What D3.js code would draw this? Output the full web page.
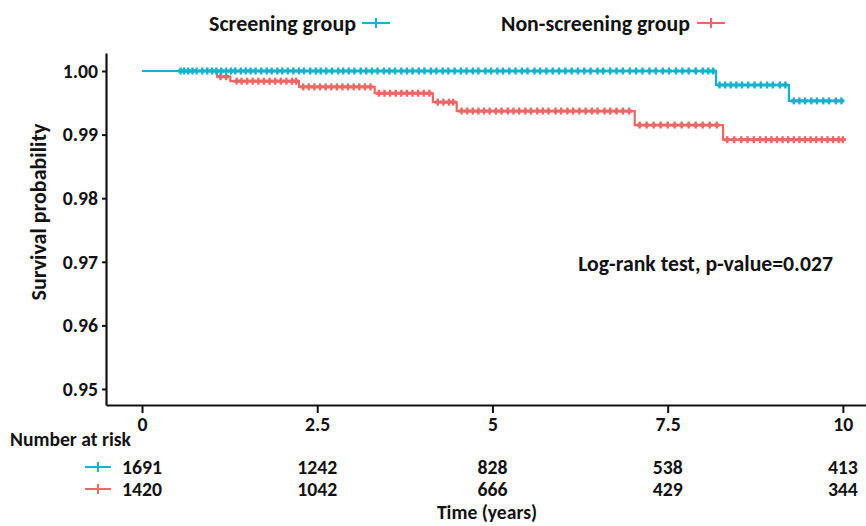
<!DOCTYPE html>
<html>
<head>
<meta charset="utf-8">
<script src="https://cdn.jsdelivr.net/npm/d3@7"></script>
<style>
  html, body { margin: 0; padding: 0; background: #fff; }
  svg { display: block; }
</style>
</head>
<body>
<svg id="chart" width="866" height="526"></svg>
<script>
// ---------------- DATA ----------------
const groups = ["Screening group", "Non-screening group"];
// Kaplan-Meier step points: time (years), survival probability
const screeningTimes = [0, 8.19, 9.23, 10.0];
const screeningSurv  = [1.0, 0.9978, 0.9953, 0.9953];
const nonScreeningTimes = [0, 1.07, 1.26, 2.24, 3.32, 4.15, 4.49, 7.03, 8.29, 10.0];
const nonScreeningSurv  = [1.0, 0.9991, 0.9984, 0.9975, 0.9965, 0.9951, 0.9937, 0.9915, 0.9892, 0.9892];
// censoring times
const screeningCensor = [0.55,0.6,0.66,0.72,0.78,0.86,0.93,1.0,1.06,1.13,1.2,1.27,1.33,1.41,1.48,1.55,1.62,1.7,1.78,1.85,1.93,2.0,2.08,2.16,2.24,2.31,2.4,2.48,2.55,2.63,2.71,2.8,2.87,2.95,3.03,3.12,3.2,3.28,3.36,3.45,3.53,3.61,3.7,3.78,3.86,3.95,4.03,4.12,4.2,4.29,4.37,4.46,4.55,4.63,4.72,4.8,4.9,4.98,5.07,5.15,5.24,5.33,5.42,5.5,5.6,5.68,5.77,5.86,5.95,6.04,6.13,6.22,6.31,6.4,6.5,6.58,6.68,6.77,6.86,6.96,7.05,7.14,7.24,7.33,7.43,7.52,7.62,7.71,7.8,7.9,8.0,8.08,8.15,8.24,8.32,8.4,8.48,8.56,8.65,8.74,8.83,8.92,9.0,9.1,9.18,9.3,9.38,9.46,9.55,9.63,9.72,9.8,9.9,9.98];
const nonScreeningCensor = [1.12,1.2,1.35,1.42,1.5,1.58,1.66,1.74,1.82,1.9,1.98,2.06,2.14,2.2,2.3,2.38,2.46,2.54,2.62,2.7,2.78,2.86,2.94,3.02,3.1,3.18,3.26,3.38,3.46,3.54,3.62,3.7,3.78,3.86,3.94,4.02,4.1,4.22,4.3,4.38,4.44,4.56,4.64,4.72,4.8,4.88,4.96,5.05,5.13,5.22,5.3,5.38,5.47,5.55,5.64,5.72,5.8,5.9,5.98,6.07,6.15,6.24,6.33,6.42,6.5,6.6,6.68,6.77,6.86,6.95,7.1,7.2,7.3,7.4,7.5,7.6,7.7,7.8,7.9,8.0,8.1,8.2,8.35,8.45,8.55,8.64,8.73,8.82,8.9,8.98,9.06,9.14,9.22,9.3,9.38,9.46,9.54,9.62,9.7,9.78,9.86,9.94,10.0];
// ticks
const xTicks = [0, 2.5, 5, 7.5, 10];
const xTickLabels = ["0", "2.5", "5", "7.5", "10"];
const yTicks = [0.95, 0.96, 0.97, 0.98, 0.99, 1.00];
const yTickLabels = ["0.95", "0.96", "0.97", "0.98", "0.99", "1.00"];
// number at risk
const riskScreening = [1691, 1242, 828, 538, 413];
const riskNonScreening = [1420, 1042, 666, 429, 344];
const colors = ["#14B2CC", "#EC6864"];
const pText = "Log-rank test, p-value=0.027";

// ---------------- FONT ----------------
function fontAvailable(fam) {
  const c = document.createElement("canvas").getContext("2d");
  const s = "Screening group 0123456789";
  c.font = "bold 40px monospace"; const a = c.measureText(s).width;
  c.font = "bold 40px '" + fam + "', monospace"; const b = c.measureText(s).width;
  return Math.abs(a - b) > 0.5;
}
let family = "Lato";
["Carlito", "Calibri", "Lato"].some(f => { if (fontAvailable(f)) { family = f; return true; } return false; });
const ctx = document.createElement("canvas").getContext("2d");
function sizeFor(str, targetW) {
  ctx.font = "bold 100px '" + family + "'";
  return 100 * targetW / ctx.measureText(str).width;
}
const FONT = "'" + family + "', sans-serif";
const fsNum = sizeFor("1691", 40);
const fsRisk = sizeFor("Number at risk", 121);

// ---------------- CHART ----------------
const svg = d3.select("#chart");
const x = d3.scaleLinear().domain([-0.514, 10.33]).range([106, 866]);
const y = d3.scaleLinear().domain([0.94748, 1.00283]).range([405, 53]);

function survAt(times, surv, t) {
  let v = surv[0];
  for (let i = 0; i < times.length; i++) if (times[i] <= t) v = surv[i];
  return v;
}

const series = [
  { times: nonScreeningTimes, surv: nonScreeningSurv, censor: nonScreeningCensor, color: colors[1] },
  { times: screeningTimes, surv: screeningSurv, censor: screeningCensor, color: colors[0] }
];

const line = d3.line().x(d => x(d[0])).y(d => y(d[1])).curve(d3.curveStepAfter);
series.forEach(s => {
  const pts = s.times.map((t, i) => [t, s.surv[i]]);
  svg.append("path").attr("d", line(pts)).attr("fill", "none")
    .attr("stroke", s.color).attr("stroke-width", 2.2);
  const g = svg.append("g").attr("stroke", s.color);
  s.censor.forEach(t => {
    const cx = x(t), cy = y(survAt(s.times, s.surv, t));
    g.append("line").attr("x1", cx).attr("x2", cx).attr("y1", cy - 3.5).attr("y2", cy + 3.5).attr("stroke-width", 2.4);
    g.append("line").attr("x1", cx - 3).attr("x2", cx + 3).attr("y1", cy).attr("y2", cy).attr("stroke-width", 3.2);
  });
});

// axes
const yAxis = svg.append("g").attr("transform", "translate(106,0)")
  .call(d3.axisLeft(y).tickValues(yTicks).tickFormat((d, i) => yTickLabels[i]).tickSize(4).tickSizeOuter(0).tickPadding(4));
const xAxis = svg.append("g").attr("transform", "translate(0,405)")
  .call(d3.axisBottom(x).tickValues(xTicks).tickFormat((d, i) => xTickLabels[i]).tickSize(8).tickSizeOuter(0).tickPadding(4));
[yAxis, xAxis].forEach(a => {
  a.select(".domain").attr("stroke", "#111").attr("stroke-width", 2.2);
  a.selectAll(".tick line").attr("stroke", "#111").attr("stroke-width", 2);
  a.selectAll("text").attr("font-family", FONT).attr("font-weight", "bold")
    .attr("font-size", fsNum).attr("fill", "#111");
});

function txt(t, px, py, anchor, size, rot) {
  const e = svg.append("text").text(t).attr("font-family", FONT).attr("font-weight", "bold")
    .attr("font-size", size).attr("fill", "#111").attr("text-anchor", anchor || "start")
    .attr("dy", "0.35em");
  if (rot) e.attr("transform", `translate(${px},${py}) rotate(${rot})`);
  else e.attr("x", px).attr("y", py);
  return e;
}
function plus(x1, x2, py, color) {
  const g = svg.append("g").attr("stroke", color).attr("stroke-width", 2);
  g.append("line").attr("x1", x1).attr("x2", x2).attr("y1", py).attr("y2", py);
  const m = (x1 + x2) / 2;
  g.append("line").attr("x1", m).attr("x2", m).attr("y1", py - 5).attr("y2", py + 5);
}

// legend
txt(groups[0], 209, 23, "start", sizeFor(groups[0], 147));
plus(362, 390, 23, colors[0]);
txt(groups[1], 501, 23, "start", sizeFor(groups[1], 189));
plus(697, 725, 23, colors[1]);

// axis title
txt("Survival probability", 38, 212, "middle", sizeFor("Survival probability", 177), -90);
txt(pText, 833, 263, "end", sizeFor(pText, 255));

// risk table
txt("Number at risk", 10, 439, "start", fsRisk);
plus(85, 111, 467, colors[0]);
plus(85, 111, 489, colors[1]);
riskScreening.forEach((v, i) => txt(String(v), x(xTicks[i]), 467, "middle", fsNum));
riskNonScreening.forEach((v, i) => txt(String(v), x(xTicks[i]), 489, "middle", fsNum));
txt("Time (years)", 487, 512, "middle", fsRisk);
</script>
</body>
</html>
